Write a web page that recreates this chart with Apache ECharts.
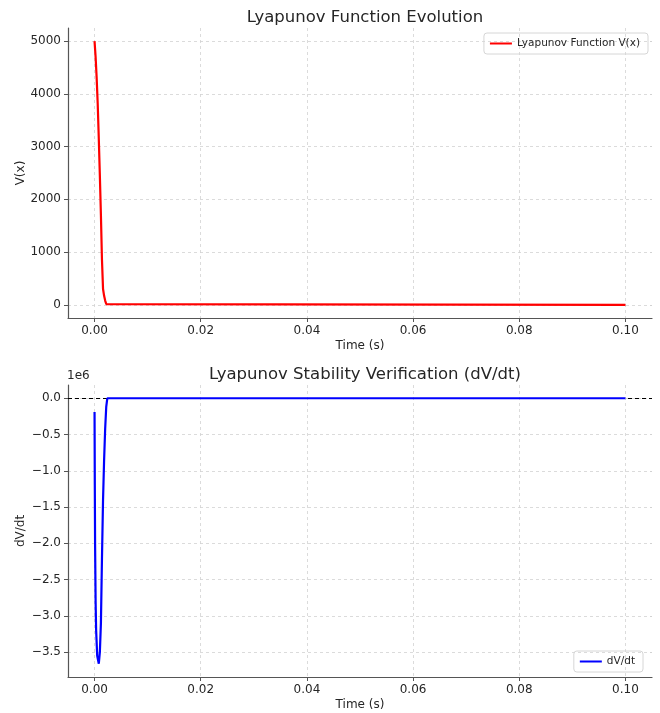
<!DOCTYPE html>
<html>
<head>
<meta charset="utf-8">
<style>
    html, body { margin: 0; padding: 0; background: #fff; }
    #main { width: 660px; height: 713px; }
</style>
<script src="https://cdn.jsdelivr.net/npm/echarts@6/dist/echarts.min.js"></script>
</head>
<body>
<div id="main"></div>
<script>
    // time (s) and V(x)
    var vTime = [0, 0.0002, 0.0004, 0.0006, 0.0008, 0.001, 0.0012, 0.0014, 0.0016, 0.0018, 0.002, 0.0022, 0.0024, 0.1];
    var vValues = [5000, 4700, 4300, 3800, 3150, 2450, 1700, 850, 300, 170, 80, 15, 0, 0];

    // time (s) and dV/dt
    var dTime = [0, 0.00005, 0.0001, 0.0002, 0.0003, 0.0005, 0.0008, 0.001, 0.0012, 0.0014, 0.0016, 0.0018, 0.002, 0.0022, 0.0024, 0.1];
    var dValues = [-0.19e6, -1.2e6, -2.0e6, -2.8e6, -3.2e6, -3.55e6, -3.66e6, -3.5e6, -3.1e6, -2.2e6, -1.4e6, -0.85e6, -0.42e6, -0.12e6, 0, 0];

    var timeTicks = [0, 0.02, 0.04, 0.06, 0.08, 0.1];
    var vTicks = [0, 1000, 2000, 3000, 4000, 5000];
    var dTicks = [-3.5e6, -3e6, -2.5e6, -2e6, -1.5e6, -1e6, -0.5e6, 0];

    var font = 'DejaVu Sans';
    var textColor = '#262626';
    var spine = '#555';
    var gridLine = { show: true, lineStyle: { color: '#d2d2d2', type: [3, 3], width: 0.8 } };

    function pairs(xs, ys) {
        return xs.map(function (x, i) { return [x, ys[i]]; });
    }

    function timeAxis(gridIndex) {
        return {
            type: 'value',
            gridIndex: gridIndex,
            min: -0.005,
            max: 0.105,
            name: 'Time (s)',
            nameLocation: 'middle',
            nameGap: 22,
            nameMoveOverlap: false,
            nameTextStyle: { fontFamily: font, fontSize: 12, color: textColor },
            axisLine: { onZero: false, lineStyle: { color: spine, width: 1.2 } },
            axisTick: { customValues: timeTicks, length: 4, lineStyle: { color: spine } },
            axisLabel: {
                customValues: timeTicks,
                fontFamily: font, fontSize: 12, color: textColor, margin: 7,
                formatter: function (v) { return v.toFixed(2); }
            },
            splitLine: gridLine
        };
    }

    var chart = echarts.init(document.getElementById('main'));

    chart.setOption({
        animation: false,
        backgroundColor: '#fff',
        title: [
            {
                text: 'Lyapunov Function Evolution',
                left: 360, top: 4, textAlign: 'center',
                textStyle: { fontFamily: font, fontSize: 16.5, fontWeight: 'normal', color: textColor }
            },
            {
                text: 'Lyapunov Stability Verification (dV/dt)',
                left: 360, top: 361, textAlign: 'center',
                textStyle: { fontFamily: font, fontSize: 16.5, fontWeight: 'normal', color: textColor }
            }
        ],
        grid: [
            { left: 68, right: 8, top: 28, height: 290, outerBoundsMode: 'none' },
            { left: 68, right: 8, top: 385, height: 292, outerBoundsMode: 'none' }
        ],
        legend: [
            {
                data: ['Lyapunov Function V(x)'],
                right: 12, top: 33,
                icon: 'rect', itemWidth: 22, itemHeight: 2, itemGap: 6,
                padding: [5, 8, 5, 6],
                borderColor: '#d6d6d6', borderWidth: 1, borderRadius: 3,
                textStyle: { fontFamily: font, fontSize: 10.5, color: textColor }
            },
            {
                data: ['dV/dt'],
                right: 17, top: 651,
                icon: 'rect', itemWidth: 22, itemHeight: 2, itemGap: 6,
                padding: [5, 8, 5, 6],
                borderColor: '#d6d6d6', borderWidth: 1, borderRadius: 3,
                textStyle: { fontFamily: font, fontSize: 10.5, color: textColor }
            }
        ],
        xAxis: [timeAxis(0), timeAxis(1)],
        yAxis: [
            {
                type: 'value',
                gridIndex: 0,
                min: -250,
                max: 5250,
                name: 'V(x)',
                nameLocation: 'middle',
                nameGap: 41,
                nameMoveOverlap: false,
                nameTextStyle: { fontFamily: font, fontSize: 12, color: textColor },
                axisLine: { show: true, onZero: false, lineStyle: { color: spine, width: 1.2 } },
                axisTick: { show: true, customValues: vTicks, length: 4, lineStyle: { color: spine } },
                axisLabel: {
                    customValues: vTicks,
                    fontFamily: font, fontSize: 12, color: textColor, margin: 7,
                    formatter: function (v) { return String(v); }
                },
                splitLine: gridLine
            },
            {
                type: 'value',
                gridIndex: 1,
                min: -3.843e6,
                max: 0.183e6,
                name: 'dV/dt',
                nameLocation: 'middle',
                nameGap: 41,
                nameMoveOverlap: false,
                nameTextStyle: { fontFamily: font, fontSize: 12, color: textColor },
                axisLine: { show: true, onZero: false, lineStyle: { color: spine, width: 1.2 } },
                axisTick: { show: true, customValues: dTicks, length: 4, lineStyle: { color: spine } },
                axisLabel: {
                    customValues: dTicks,
                    fontFamily: font, fontSize: 12, color: textColor, margin: 7,
                    formatter: function (v) { return (v / 1e6).toFixed(1).replace('-', '\u2212'); }
                },
                splitLine: gridLine
            }
        ],
        graphic: [
            {
                type: 'text', left: 67, top: 370,
                style: { text: '1e6', fontFamily: font, fontSize: 12, fill: textColor }
            }
        ],
        series: [
            {
                name: 'Lyapunov Function V(x)',
                type: 'line',
                xAxisIndex: 0, yAxisIndex: 0,
                data: pairs(vTime, vValues),
                showSymbol: false,
                color: '#ff0000',
                lineStyle: { width: 2.2, color: '#ff0000' }
            },
            {
                name: 'dV/dt',
                type: 'line',
                xAxisIndex: 1, yAxisIndex: 1,
                data: pairs(dTime, dValues),
                showSymbol: false,
                color: '#0000ff',
                lineStyle: { width: 2.2, color: '#0000ff' },
                z: 3,
                markLine: {
                    silent: true,
                    symbol: 'none',
                    label: { show: false },
                    lineStyle: { color: '#000', type: [4, 3], width: 1 },
                    data: [{ yAxis: 0 }],
                    z: 2
                }
            }
        ]
    });
</script>
</body>
</html>
